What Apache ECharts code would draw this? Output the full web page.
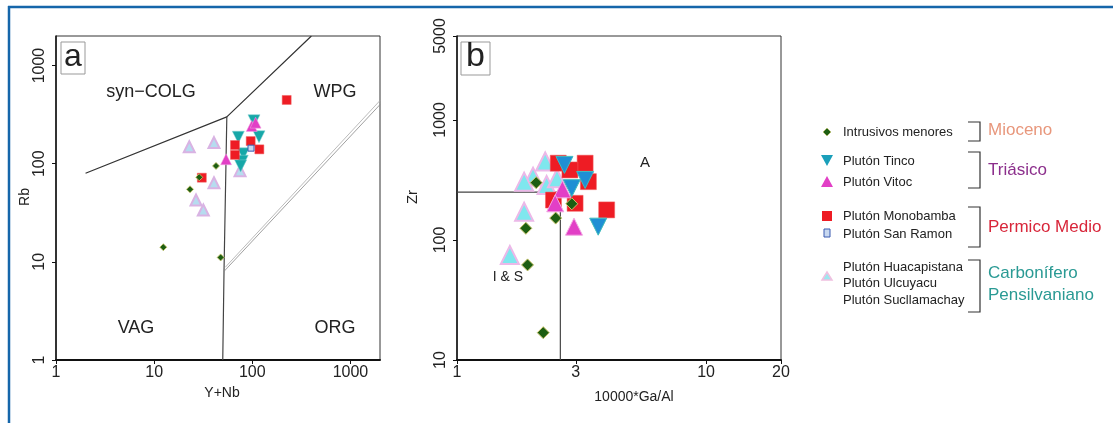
<!DOCTYPE html>
<html><head><meta charset="utf-8">
<script src="https://cdn.jsdelivr.net/npm/echarts@6/dist/echarts.min.js"></script>
<style>html,body{margin:0;padding:0;background:#fff}#c{width:1113px;height:423px}</style>
</head><body><div id="c"></div>
<script>
// ---------- tick labels ----------
const aXTicks = [1, 10, 100, 1000];
const aYTicks = [1, 10, 100, 1000];
const bXTicks = [1, 3, 10, 20];
const bYTicks = [10, 100, 1000, 5000];

// ---------- panel a: [Y+Nb, Rb] ----------
const aIntrusivos = [[23.2, 54.8], [28.8, 72.7], [42.7, 95], [12.4, 14.1], [47.6, 11.1]];
const aTinco = [[104, 274], [72, 186], [117, 188], [81, 126], [79, 106], [76, 95]];
const aVitoc = [[98.6, 242], [108, 262], [54, 111]];
const aMonobamba = [[224, 446], [66.6, 155], [66.6, 123], [96.3, 170], [118, 140], [30.6, 72]];
const aSanRamon = [[97, 144]];
const aCarbonifero = [[22.8, 149], [40.7, 164], [40.7, 64], [26.7, 42.7], [31.7, 33.8], [75, 85]];
// boundary lines (Pearce et al. 1984)
const aLineColg = [[2, 80], [55, 300], [400, 2000]];
const aLineVag = [[55, 300], [51.5, 8], [50, 1]];
const aLineOrg = [[51.5, 8], [2000, 400]];
const aLineOrg2 = [[53, 8.8], [2000, 440]];

// ---------- panel b: [10000*Ga/Al, Zr] ----------
const bIntrusivos = [[2.08, 300], [1.89, 125], [2.49, 152], [2.89, 200], [1.92, 62], [2.22, 16.9]];
const bTinco = [[2.7, 422], [3.27, 316], [2.89, 270], [3.69, 129]];
const bVitoc = [[2.65, 264], [2.48, 202], [2.95, 129]];
const bMonobamba = [[2.55, 436], [3.27, 436], [3.37, 306], [2.84, 383], [2.44, 215], [2.98, 202], [3.99, 178]];
const bCarbonifero = [[2.26, 450], [2.02, 337], [1.86, 306], [2.29, 287], [2.52, 327], [1.86, 172], [1.63, 75]];
const bLine = [[1, 250], [2.6, 250], [2.6, 10]];

// ---------- legend ----------
const legendItems = ['Intrusivos menores', 'Plutón Tinco', 'Plutón Vitoc', 'Plutón Monobamba', 'Plutón San Ramon',
  'Plutón Huacapistana', 'Plutón Ulcuyacu', 'Plutón Sucllamachay'];
const legendGroups = ['Mioceno', 'Triásico', 'Permico Medio', 'Carbonífero', 'Pensilvaniano'];

const FONT = 'Liberation Sans, Arial, sans-serif';
const chart = echarts.init(document.getElementById('c'), null, {renderer: 'canvas'});

function logAxis(min, max, ticks, isY, gi) {
  return {
    type: 'log', logBase: 10, min: min, max: max, gridIndex: gi,
    axisLine: {show: true, lineStyle: {color: '#111', width: isY ? 1.5 : 2}},
    axisTick: {show: true, length: 4, customValues: ticks, lineStyle: {color: '#111'}},
    axisLabel: {customValues: ticks, color: '#222', fontSize: 16, fontFamily: FONT,
      rotate: isY ? 90 : 0, margin: isY ? 8 : 5, formatter: v => String(Math.round(v))},
    splitLine: {show: false}, minorTick: {show: false}
  };
}
function lineSeries(data, xi, color, width) {
  return {type: 'line', xAxisIndex: xi, yAxisIndex: xi, data: data, symbol: 'none', silent: true,
    lineStyle: {color: color, width: width}, z: 1, animation: false};
}
function scat(data, xi, symbol, size, fill, border, bw, rot) {
  return {type: 'scatter', xAxisIndex: xi, yAxisIndex: xi, data: data, symbol: symbol, symbolSize: size,
    symbolRotate: rot || 0, animation: false, silent: true,
    itemStyle: {color: fill, borderColor: border, borderWidth: bw, opacity: 1}, z: 3};
}

const C = {
  green: '#1d5e12', greenB: '#c9c46a', red: '#ee1c24', redB: '#f06060',
  tincoA: '#17a7a8', tincoB: '#1f8fd4', vitoc: '#e23fc6', vitocB: '#f2a6e2',
  carbA: '#b6dcef', carbAB: '#d9b3e3', carbB: '#7fe7ee', carbBB: '#ecb8e8'
};

const series = [
  lineSeries(aLineColg, 0, '#333', 1.2),
  lineSeries(aLineVag, 0, '#444', 1.2),
  lineSeries(aLineOrg, 0, '#888', 0.8),
  lineSeries(aLineOrg2, 0, '#aaa', 0.8),
  lineSeries(bLine, 1, '#444', 1.2),
  // panel a
  scat(aCarbonifero, 0, 'triangle', 11, C.carbA, C.carbAB, 2),
  scat(aTinco, 0, 'triangle', 12, C.tincoA, '#7fd0d0', 0.5, 180),
  scat(aMonobamba, 0, 'rect', 9, C.red, C.redB, 0.5),
  scat(aSanRamon, 0, 'rect', 6, '#c8d8f0', '#3a5ab0', 1),
  scat(aVitoc, 0, 'triangle', 11, C.vitoc, C.vitocB, 0.5),
  scat(aIntrusivos, 0, 'diamond', 7, C.green, C.greenB, 0.8),
  // panel b
  scat(bCarbonifero, 1, 'triangle', 18, C.carbB, C.carbBB, 2),
  scat(bMonobamba, 1, 'rect', 16, C.red, C.redB, 0.5),
  scat(bTinco, 1, 'triangle', 17, C.tincoB, '#3fbcbc', 1, 180),
  scat(bVitoc, 1, 'triangle', 17, C.vitoc, C.vitocB, 1),
  scat(bIntrusivos, 1, 'diamond', 12, C.green, C.greenB, 1)
];

function txt(x, y, text, size, color, opts) {
  opts = opts || {};
  return {type: 'text', x: x, y: y, rotation: opts.rot || 0, z: 10, silent: true,
    style: {text: text, x: 0, y: 0, fill: color || '#222', font: (opts.weight || 'normal') + ' ' + size + 'px ' + FONT,
      textAlign: opts.align || 'center', textVerticalAlign: 'middle'}};
}
function poly(points, fill, stroke, lw) {
  return {type: 'polygon', z: 10, silent: true, shape: {points: points},
    style: {fill: fill, stroke: stroke || null, lineWidth: lw || 0}};
}
function bracket(x, y1, y2) {
  return {type: 'polyline', z: 10, silent: true,
    shape: {points: [[x - 12, y1], [x, y1], [x, y2], [x - 12, y2]]},
    style: {stroke: '#333', lineWidth: 1.2, fill: null}};
}

const LX = 843, MX = 827, GX = 988;
const graphic = [
  // blue frame
  {type: 'line', z: 20, silent: true, shape: {x1: 8, y1: 7, x2: 1113, y2: 7}, style: {stroke: '#1566aa', lineWidth: 2.5}},
  {type: 'line', z: 20, silent: true, shape: {x1: 9, y1: 6, x2: 9, y2: 423}, style: {stroke: '#1566aa', lineWidth: 2.5}},
  // panel labels
  {type: 'rect', z: 10, silent: true, shape: {x: 61, y: 42, width: 24, height: 32}, style: {fill: '#fff', stroke: '#999', lineWidth: 1}},
  txt(73, 57, 'a', 32, '#222'),
  {type: 'rect', z: 10, silent: true, shape: {x: 461, y: 42, width: 29, height: 33}, style: {fill: '#fff', stroke: '#999', lineWidth: 1}},
  txt(475.5, 57, 'b', 34, '#222'),
  // region labels panel a
  txt(151, 92, 'syn−COLG', 18, '#222'),
  txt(335, 92, 'WPG', 18, '#222'),
  txt(136, 328, 'VAG', 18, '#222'),
  txt(335, 328, 'ORG', 18, '#222'),
  // region labels panel b
  txt(645, 163, 'A', 15, '#222'),
  txt(508, 277, 'I & S', 14, '#222'),
  // axis names
  txt(222, 393, 'Y+Nb', 14, '#222'),
  txt(25, 197, 'Rb', 14, '#222', {rot: Math.PI / 2}),
  txt(413, 197, 'Zr', 15, '#222', {rot: Math.PI / 2}),
  txt(634, 397, '10000*Ga/Al', 14, '#222'),
  // legend markers
  poly([[MX, 128], [MX + 4, 132], [MX, 136], [MX - 4, 132]], C.green, C.greenB, 0.6),
  poly([[MX - 6, 155], [MX + 6, 155], [MX, 166]], '#1a9fba'),
  poly([[MX - 6, 187], [MX + 6, 187], [MX, 176]], C.vitoc),
  {type: 'rect', z: 10, silent: true, shape: {x: MX - 5, y: 211, width: 10, height: 10}, style: {fill: C.red}},
  {type: 'rect', z: 10, silent: true, shape: {x: MX - 3, y: 229, width: 6, height: 8}, style: {fill: '#c8d8f0', stroke: '#3a5ab0', lineWidth: 1}},
  poly([[MX - 5, 280], [MX + 5, 280], [MX, 272]], '#9ee6ee', '#f0c0e0', 1.5),
  // legend text
  txt(LX, 132, legendItems[0], 13, '#222', {align: 'left'}),
  txt(LX, 161, legendItems[1], 13, '#222', {align: 'left'}),
  txt(LX, 182, legendItems[2], 13, '#222', {align: 'left'}),
  txt(LX, 216, legendItems[3], 13, '#222', {align: 'left'}),
  txt(LX, 234, legendItems[4], 13, '#222', {align: 'left'}),
  txt(LX, 267, legendItems[5], 13, '#222', {align: 'left'}),
  txt(LX, 283, legendItems[6], 13, '#222', {align: 'left'}),
  txt(LX, 300, legendItems[7], 13, '#222', {align: 'left'}),
  // brackets
  bracket(980, 122, 141),
  bracket(980, 152, 188),
  bracket(980, 207, 247),
  bracket(980, 260, 312),
  // group names
  txt(GX, 130, legendGroups[0], 17, '#e8977c', {align: 'left'}),
  txt(GX, 170, legendGroups[1], 17, '#8c2f8c', {align: 'left'}),
  txt(GX, 227, legendGroups[2], 17, '#d8263a', {align: 'left'}),
  txt(GX, 273, legendGroups[3], 17, '#2a9a94', {align: 'left'}),
  txt(GX, 295, legendGroups[4], 17, '#2a9a94', {align: 'left'})
];

chart.setOption({
  backgroundColor: '#fff',
  animation: false,
  textStyle: {fontFamily: FONT},
  grid: [
    {left: 56, top: 36, width: 324, height: 324, show: true, borderColor: '#333', borderWidth: 1, backgroundColor: 'transparent'},
    {left: 457, top: 36, width: 324, height: 324, show: true, borderColor: '#333', borderWidth: 1, backgroundColor: 'transparent'}
  ],
  xAxis: [logAxis(1, 2000, aXTicks, false, 0), logAxis(1, 20, bXTicks, false, 1)],
  yAxis: [logAxis(1, 2000, aYTicks, true, 0), logAxis(10, 5000, bYTicks, true, 1)],
  series: series,
  graphic: graphic
});
</script></body></html>
